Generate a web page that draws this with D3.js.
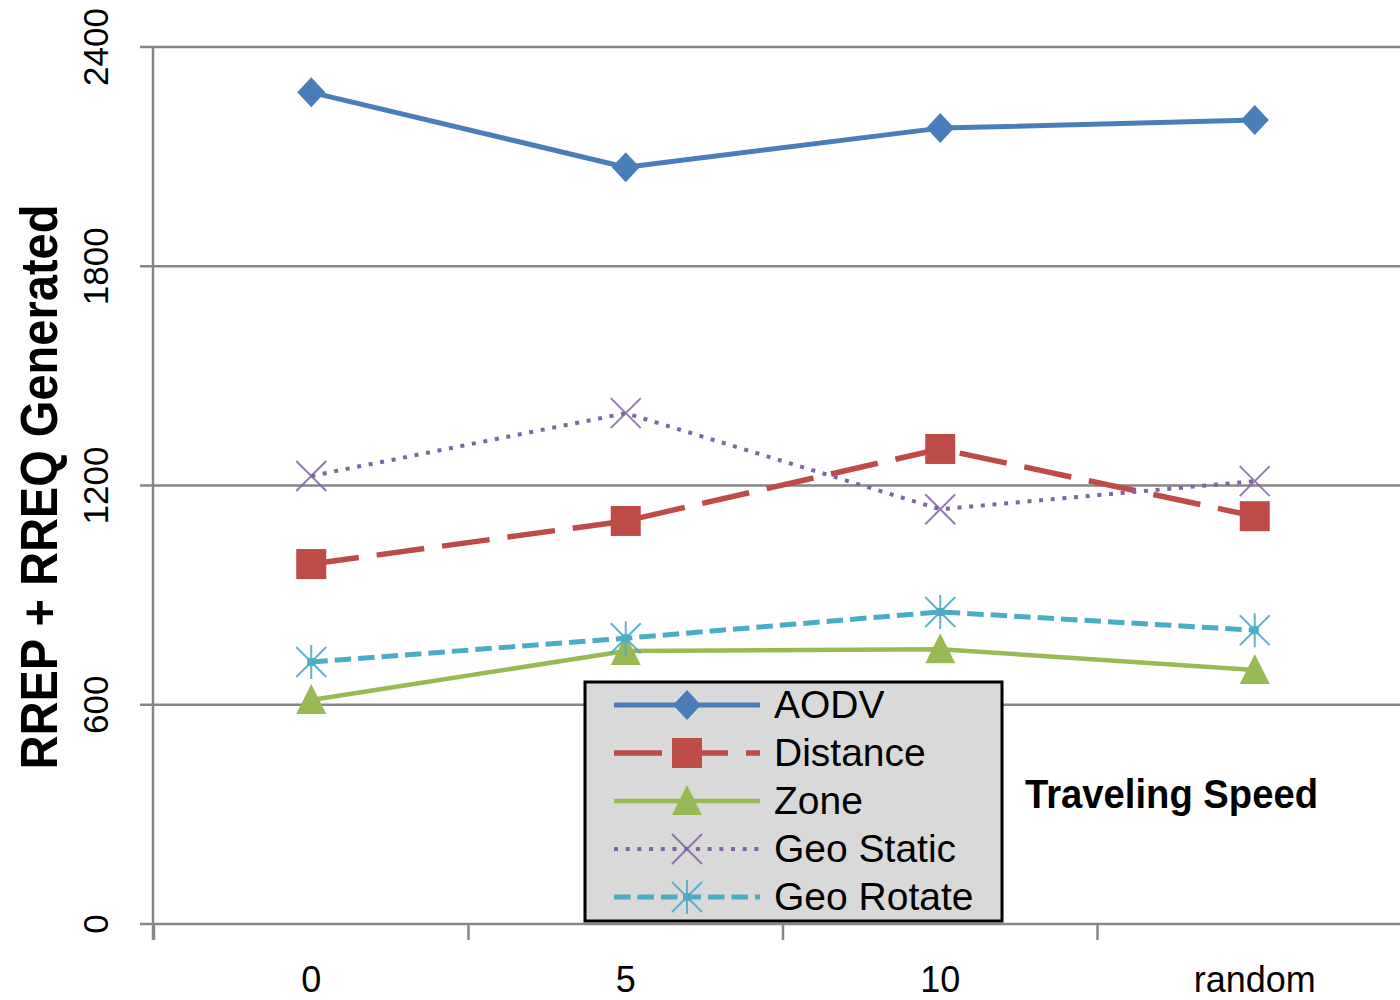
<!DOCTYPE html>
<html>
<head>
<meta charset="utf-8">
<script src="https://cdn.jsdelivr.net/npm/d3@7"></script>
<style>
  html, body { margin: 0; padding: 0; background: #ffffff; }
  svg { display: block; font-family: "Liberation Sans", Arial, sans-serif; }
</style>
</head>
<body>
<svg id="chart" width="1400" height="1000"></svg>
<script>
// ---------------- data ----------------
const categories = ["0", "5", "10", "random"];
const yTicks = [0, 600, 1200, 1800, 2400];
const seriesNames = ["AODV", "Distance", "Zone", "Geo Static", "Geo Rotate"];
const aodv      = [2276, 2071, 2178, 2200];
const distance  = [985, 1103, 1300, 1116];
const zone      = [613, 747, 752, 695];
const geoStatic = [1226, 1398, 1135, 1212];
const geoRotate = [717, 782, 854, 804];
const yTitle = "RREP + RREQ Generated";
const xTitle = "Traveling Speed";

// ---------------- styles ----------------
const styles = {
  "AODV":       { color: "#4a7ebb", width: 5,   dash: null,    marker: "diamond" },
  "Distance":   { color: "#be4b48", width: 5.5, dash: "48,18", marker: "square" },
  "Zone":       { color: "#98b954", width: 4.5, dash: null,    marker: "triangle" },
  "Geo Static": { color: "#8064a2", width: 4,   dash: "4,7.7", marker: "x" },
  "Geo Rotate": { color: "#4bacc6", width: 5,   dash: "16.5,7", marker: "asterisk" }
};
const seriesData = [aodv, distance, zone, geoStatic, geoRotate];

const svg = d3.select("#chart");
svg.append("rect").attr("width", 1400).attr("height", 1000).attr("fill", "#ffffff");

const x = d3.scaleBand().domain(categories).range([154, 1412]).padding(0);
const y = d3.scaleLinear().domain([0, 2400]).range([924, 47]);
const cx = c => x(c) + x.bandwidth() / 2;
const gridColor = "#868686";

// gridlines
svg.append("g").selectAll("line").data(yTicks).join("line")
  .attr("x1", 140).attr("x2", 1400)
  .attr("y1", d => y(d)).attr("y2", d => y(d))
  .attr("stroke", gridColor).attr("stroke-width", 2.5);

// y axis line
svg.append("line").attr("x1", 153).attr("x2", 153)
  .attr("y1", y(2400)).attr("y2", 940)
  .attr("stroke", gridColor).attr("stroke-width", 2.5);

// x ticks at band boundaries
svg.append("g").selectAll("line").data(categories).join("line")
  .attr("x1", d => x(d)).attr("x2", d => x(d))
  .attr("y1", y(0)).attr("y2", 940)
  .attr("stroke", gridColor).attr("stroke-width", 2.5);

// y tick labels (rotated)
svg.append("g").selectAll("text").data(yTicks).join("text")
  .attr("transform", d => `translate(108,${y(d)}) rotate(-90)`)
  .attr("text-anchor", "middle")
  .attr("font-size", 35)
  .attr("fill", "#000")
  .text(d => d);

// x tick labels
svg.append("g").selectAll("text").data(categories).join("text")
  .attr("x", d => cx(d)).attr("y", 992)
  .attr("text-anchor", "middle")
  .attr("font-size", 36)
  .attr("fill", "#000")
  .text(d => d);

// y title
svg.append("text")
  .attr("transform", "translate(57,487) rotate(-90)")
  .attr("text-anchor", "middle")
  .attr("font-size", 52).attr("font-weight", "bold")
  .attr("textLength", 565).attr("lengthAdjust", "spacingAndGlyphs")
  .attr("fill", "#000")
  .text(yTitle);

// x title
svg.append("text")
  .attr("x", 1025).attr("y", 808)
  .attr("font-size", 40).attr("font-weight", "bold")
  .attr("textLength", 293).attr("lengthAdjust", "spacingAndGlyphs")
  .attr("fill", "#000")
  .text(xTitle);

// marker drawing
function drawMarker(g, type, px, py, color) {
  if (type === "diamond") {
    g.append("path").attr("d", `M${px},${py-15} L${px+14},${py} L${px},${py+15} L${px-14},${py} Z`)
      .attr("fill", color);
  } else if (type === "square") {
    g.append("rect").attr("x", px-15).attr("y", py-15).attr("width", 30).attr("height", 30)
      .attr("fill", color);
  } else if (type === "triangle") {
    g.append("path").attr("d", `M${px},${py-16} L${px+15},${py+14} L${px-15},${py+14} Z`)
      .attr("fill", color);
  } else if (type === "x") {
    g.append("path").attr("d", `M${px-15},${py-15} L${px+15},${py+15} M${px+15},${py-15} L${px-15},${py+15}`)
      .attr("stroke", color).attr("stroke-width", 2).attr("stroke-opacity", 0.85).attr("fill", "none");
  } else if (type === "asterisk") {
    g.append("path").attr("d", `M${px-15},${py-15} L${px+15},${py+15} M${px+15},${py-15} L${px-15},${py+15} M${px},${py-17} L${px},${py+17}`)
      .attr("stroke", color).attr("stroke-width", 2).attr("stroke-opacity", 0.9).attr("fill", "none");
    g.append("rect").attr("x", px-4).attr("y", py-4).attr("width", 8).attr("height", 8).attr("fill", color);
  }
}

const line = d3.line().x((d, i) => cx(categories[i])).y(d => y(d));

// series
seriesNames.forEach((name, si) => {
  const st = styles[name];
  const g = svg.append("g");
  g.append("path").datum(seriesData[si])
    .attr("d", line)
    .attr("fill", "none")
    .attr("stroke", st.color)
    .attr("stroke-width", st.width)
    .attr("stroke-dasharray", st.dash)
    .attr("stroke-linejoin", "round");
  seriesData[si].forEach((v, i) => drawMarker(g, st.marker, cx(categories[i]), y(v), st.color));
});

// legend
const lg = svg.append("g");
lg.append("rect").attr("x", 585).attr("y", 682).attr("width", 417).attr("height", 239)
  .attr("fill", "#d9d9d9").attr("stroke", "#000").attr("stroke-width", 3);
seriesNames.forEach((name, i) => {
  const st = styles[name];
  const ry = 705 + i * 48;
  lg.append("line").attr("x1", 614).attr("x2", 760).attr("y1", ry).attr("y2", ry)
    .attr("stroke", st.color).attr("stroke-width", st.width)
    .attr("stroke-dasharray", st.dash);
  drawMarker(lg, st.marker, 687, ry, st.color);
  lg.append("text").attr("x", 774).attr("y", ry + 13)
    .attr("font-size", 39).attr("fill", "#000").text(name);
});
</script>
</body>
</html>
